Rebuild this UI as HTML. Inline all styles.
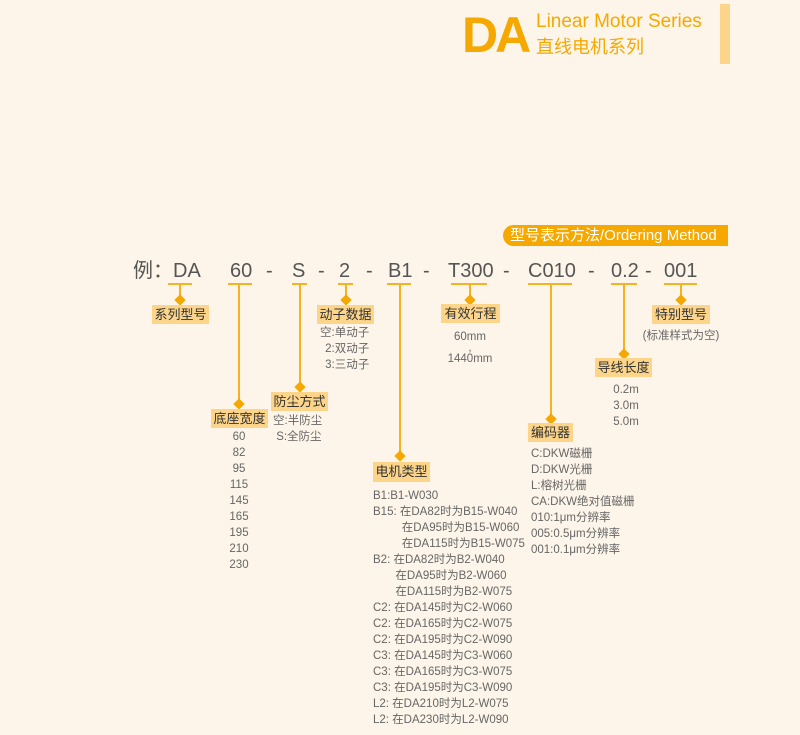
<!DOCTYPE html>
<html><head><meta charset="utf-8"><style>
*{margin:0;padding:0;box-sizing:border-box}
body{width:800px;height:735px;background:#fdf5e9;position:relative;overflow:hidden;font-family:"Liberation Sans","Noto Sans CJK SC",sans-serif;color:#666}
.a{position:absolute;white-space:nowrap}
.code{font-size:20px;color:#555;top:259px;line-height:24px}
.ul{position:absolute;height:2px;background:#f5b223;top:283px}
.vl{position:absolute;width:2px;background:#f5b223;top:284px}
.dm{position:absolute;width:8px;height:8px;background:#f5a800;transform:rotate(45deg)}
.lb{position:absolute;background:#fcd48a;color:#333;font-size:13px;line-height:19px;height:19px;text-align:center}
.ls{position:absolute;font-size:11.5px;line-height:16px;color:#666;white-space:nowrap}
</style></head><body>
<div class="a" style="left:462px;top:6px;font-size:50px;font-weight:bold;color:#f5a800;line-height:58px;letter-spacing:-3px">DA</div>
<div class="a" style="left:536px;top:10px;font-size:19px;color:#f5a800;line-height:24px">Linear Motor Series</div>
<div class="a" style="left:536px;top:35px;font-size:18px;color:#f5a800;line-height:24px">直线电机系列</div>
<div class="a" style="left:720px;top:4px;width:10px;height:60px;background:#fcd48a"></div>

<div class="a" style="left:503px;top:225px;width:225px;height:21px;background:#f5a800;border-radius:11px 0 0 11px;color:#fff;font-size:15px;line-height:21px;padding-left:7px">型号表示方法/Ordering Method</div>

<div class="a code" style="left:133px">例：DA</div>
<div class="a code" style="left:230px">60</div>
<div class="a code" style="left:266px">-</div>
<div class="a code" style="left:292px">S</div>
<div class="a code" style="left:318px">-</div>
<div class="a code" style="left:339px">2</div>
<div class="a code" style="left:366px">-</div>
<div class="a code" style="left:388px">B1</div>
<div class="a code" style="left:423px">-</div>
<div class="a code" style="left:448px">T300</div>
<div class="a code" style="left:503px">-</div>
<div class="a code" style="left:528px">C010</div>
<div class="a code" style="left:588px">-</div>
<div class="a code" style="left:611px">0.2</div>
<div class="a code" style="left:645px">-</div>
<div class="a code" style="left:664px">001</div>

<div class="ul" style="left:168px;width:24px"></div>
<div class="vl" style="left:179px;height:16px"></div>
<div class="dm" style="left:176px;top:296px"></div>
<div class="lb" style="left:152px;top:305px;width:57px">系列型号</div>

<div class="ul" style="left:228px;width:24px"></div>
<div class="vl" style="left:238px;height:120px"></div>
<div class="dm" style="left:235px;top:400px"></div>
<div class="lb" style="left:211px;top:409px;width:57px">底座宽度</div>
<div class="ls" style="left:219px;top:429px;width:40px;text-align:center">60<br>82<br>95<br>115<br>145<br>165<br>195<br>210<br>230</div>

<div class="ul" style="left:292px;width:15px"></div>
<div class="vl" style="left:299px;height:103px"></div>
<div class="dm" style="left:296px;top:383px"></div>
<div class="lb" style="left:271px;top:392px;width:57px">防尘方式</div>
<div class="ls" style="left:273px;top:413px">空:半防尘<br>&nbsp;S:全防尘</div>

<div class="ul" style="left:338px;width:15px"></div>
<div class="vl" style="left:345px;height:16px"></div>
<div class="dm" style="left:342px;top:296px"></div>
<div class="lb" style="left:317px;top:305px;width:57px">动子数据</div>
<div class="ls" style="left:320px;top:325px;text-align:right">空:单动子<br>2:双动子<br>3:三动子</div>

<div class="ul" style="left:387px;width:24px"></div>
<div class="vl" style="left:399px;height:172px"></div>
<div class="dm" style="left:396px;top:452px"></div>
<div class="lb" style="left:373px;top:462px;width:57px;height:20px">电机类型</div>
<div class="ls" style="left:373px;top:488px">B1:B1-W030<br>B15: 在DA82时为B15-W040<br>&nbsp;&nbsp;&nbsp;&nbsp;&nbsp;&nbsp;&nbsp;&nbsp;&nbsp;在DA95时为B15-W060<br>&nbsp;&nbsp;&nbsp;&nbsp;&nbsp;&nbsp;&nbsp;&nbsp;&nbsp;在DA115时为B15-W075<br>B2: 在DA82时为B2-W040<br>&nbsp;&nbsp;&nbsp;&nbsp;&nbsp;&nbsp;&nbsp;在DA95时为B2-W060<br>&nbsp;&nbsp;&nbsp;&nbsp;&nbsp;&nbsp;&nbsp;在DA115时为B2-W075<br>C2: 在DA145时为C2-W060<br>C2: 在DA165时为C2-W075<br>C2: 在DA195时为C2-W090<br>C3: 在DA145时为C3-W060<br>C3: 在DA165时为C3-W075<br>C3: 在DA195时为C3-W090<br>L2: 在DA210时为L2-W075<br>L2: 在DA230时为L2-W090</div>

<div class="ul" style="left:451px;width:36px"></div>
<div class="vl" style="left:469px;height:16px"></div>
<div class="dm" style="left:466px;top:296px"></div>
<div class="lb" style="left:441px;top:304px;width:59px">有效行程</div>
<div class="ls" style="left:440px;top:332px;width:60px;text-align:center;line-height:11px">60mm<br>,<br>1440mm</div>

<div class="ul" style="left:528px;width:44px"></div>
<div class="vl" style="left:550px;height:136px"></div>
<div class="dm" style="left:547px;top:415px"></div>
<div class="lb" style="left:528px;top:423px;width:45px">编码器</div>
<div class="ls" style="left:531px;top:446px">C:DKW磁栅<br>D:DKW光栅<br>L:榕树光栅<br>CA:DKW绝对值磁栅<br>010:1μm分辨率<br>005:0.5μm分辨率<br>001:0.1μm分辨率</div>

<div class="ul" style="left:611px;width:26px"></div>
<div class="vl" style="left:623px;height:70px"></div>
<div class="dm" style="left:620px;top:350px"></div>
<div class="lb" style="left:595px;top:358px;width:57px">导线长度</div>
<div class="ls" style="left:596px;top:382px;width:60px;text-align:center">0.2m<br>3.0m<br>5.0m</div>

<div class="ul" style="left:664px;width:33px"></div>
<div class="vl" style="left:680px;height:16px"></div>
<div class="dm" style="left:677px;top:296px"></div>
<div class="lb" style="left:652px;top:305px;width:58px">特别型号</div>
<div class="ls" style="left:641px;top:328px;width:80px;text-align:center">(标准样式为空)</div>
</body></html>
